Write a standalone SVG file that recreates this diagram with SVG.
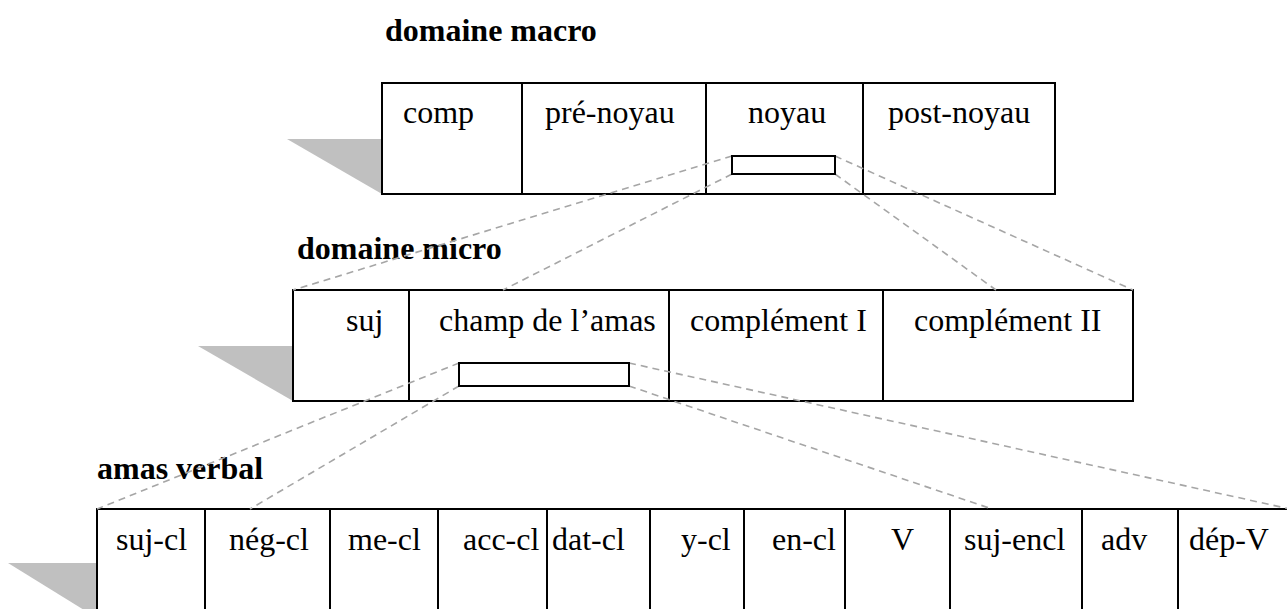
<svg xmlns="http://www.w3.org/2000/svg" width="1287" height="609" viewBox="0 0 1287 609">
<style>
.bg{fill:#fff}
.box{fill:#fff;stroke:#000;stroke-width:2}
.div{stroke:#000;stroke-width:2}
.sh{fill:#c0c0c0;stroke:none}
.lbl{font-family:"Liberation Serif","Times New Roman",serif;font-size:32px;fill:#000}
.ttl{font-family:"Liberation Serif","Times New Roman",serif;font-size:32px;font-weight:bold;fill:#000}
.dash{fill:none;stroke:#a6a6a6;stroke-width:1.6;stroke-dasharray:7 5}
.mini{fill:#fff;stroke:#000;stroke-width:2}
</style>
<rect class="bg" x="0" y="0" width="1287" height="609"/>

<g id="macro">
  <text class="ttl" x="385" y="41">domaine macro</text>
  <polygon class="sh" points="287,139 382,139 382,194"/>
  <rect class="box" x="382" y="83" width="673" height="111"/>
  <line class="div" x1="522" y1="83" x2="522" y2="194"/>
  <line class="div" x1="706" y1="83" x2="706" y2="194"/>
  <line class="div" x1="863" y1="83" x2="863" y2="194"/>
  <text class="lbl" x="403" y="123">comp</text>
  <text class="lbl" x="545" y="123">pré-noyau</text>
  <text class="lbl" x="748" y="123">noyau</text>
  <text class="lbl" x="888" y="123">post-noyau</text>
</g>

<g id="micro">
  <text class="ttl" x="297" y="259">domaine micro</text>
  <polygon class="sh" points="198,346 293,346 293,401"/>
  <rect class="box" x="293" y="290" width="840" height="111"/>
  <line class="div" x1="409" y1="290" x2="409" y2="401"/>
  <line class="div" x1="669" y1="290" x2="669" y2="401"/>
  <line class="div" x1="883" y1="290" x2="883" y2="401"/>
  <text class="lbl" x="346" y="331">suj</text>
  <text class="lbl" x="439" y="331">champ de l’amas</text>
  <text class="lbl" x="690" y="331">complément I</text>
  <text class="lbl" x="914" y="331">complément II</text>
</g>

<g id="amas">
  <text class="ttl" x="97" y="479">amas verbal</text>
  <polygon class="sh" points="8,563 97,563 97,618"/>
  <rect class="box" x="97" y="509" width="1195" height="120"/>
  <line class="div" x1="205" y1="509" x2="205" y2="609"/>
  <line class="div" x1="330" y1="509" x2="330" y2="609"/>
  <line class="div" x1="438" y1="509" x2="438" y2="609"/>
  <line class="div" x1="547" y1="509" x2="547" y2="609"/>
  <line class="div" x1="650" y1="509" x2="650" y2="609"/>
  <line class="div" x1="744" y1="509" x2="744" y2="609"/>
  <line class="div" x1="845" y1="509" x2="845" y2="609"/>
  <line class="div" x1="950" y1="509" x2="950" y2="609"/>
  <line class="div" x1="1082" y1="509" x2="1082" y2="609"/>
  <line class="div" x1="1178" y1="509" x2="1178" y2="609"/>
  <text class="lbl" x="116" y="550">suj-cl</text>
  <text class="lbl" x="229" y="550">nég-cl</text>
  <text class="lbl" x="348" y="550">me-cl</text>
  <text class="lbl" x="463" y="550">acc-cl</text>
  <text class="lbl" x="552" y="550">dat-cl</text>
  <text class="lbl" x="681" y="550">y-cl</text>
  <text class="lbl" x="772" y="550">en-cl</text>
  <text class="lbl" x="891" y="550">V</text>
  <text class="lbl" x="964" y="550">suj-encl</text>
  <text class="lbl" x="1101" y="550">adv</text>
  <text class="lbl" x="1189" y="550">dép-V</text>
</g>

<g id="connectors">
  <line class="dash" x1="732" y1="156" x2="293" y2="290"/>
  <line class="dash" x1="732" y1="174" x2="503" y2="290"/>
  <line class="dash" x1="835" y1="156" x2="1133" y2="290"/>
  <line class="dash" x1="835" y1="174" x2="996" y2="290"/>
  <line class="dash" x1="459" y1="363" x2="97" y2="509"/>
  <line class="dash" x1="459" y1="386" x2="250" y2="509"/>
  <line class="dash" x1="629" y1="363" x2="1290" y2="509"/>
  <line class="dash" x1="629" y1="386" x2="992" y2="509"/>
</g>

<g id="zoom-noyau">
  <rect class="mini" x="732" y="156" width="103" height="18"/>
</g>
<g id="zoom-champ">
  <rect class="mini" x="459" y="363" width="170" height="23"/>
</g>
</svg>
